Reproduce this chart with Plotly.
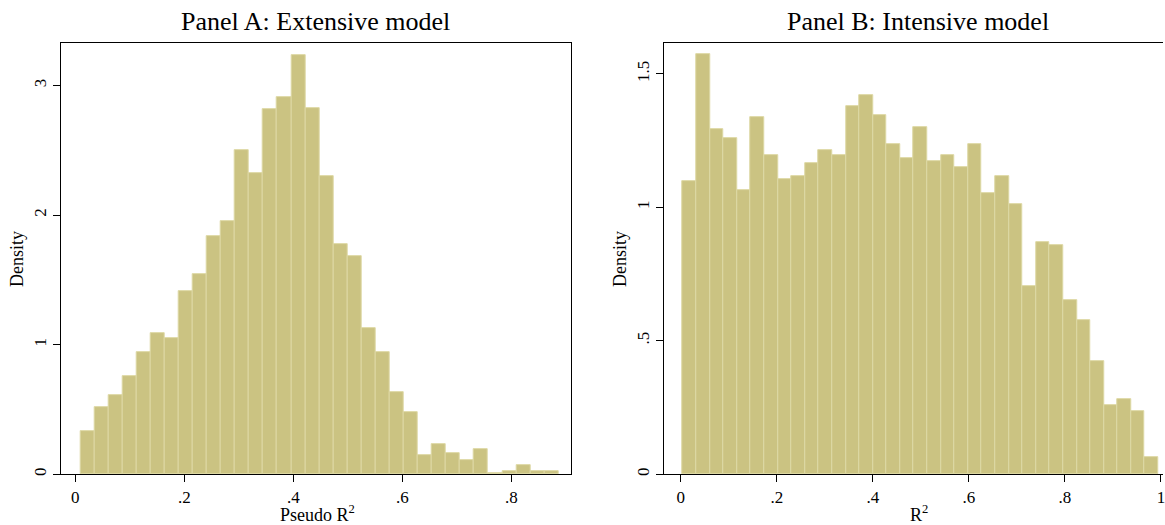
import plotly.graph_objects as go

# ---- data ----
# Panel A: Extensive model (Pseudo R^2), density per bin
a_bin_start = 0.0091
a_bin_width = 0.02581
a_density = [0.333, 0.52, 0.608, 0.756, 0.944, 1.092, 1.054, 1.415, 1.544, 1.841,
             1.956, 2.50, 2.328, 2.815, 2.913, 3.236, 2.826, 2.30, 1.777, 1.682,
             1.128, 0.944, 0.631, 0.482, 0.146, 0.233, 0.162, 0.110, 0.195, 0.010,
             0.026, 0.072, 0.026, 0.026]

# Panel B: Intensive model (R^2), density per bin
b_bin_start = 0.0039
b_bin_width = 0.0283
b_density = [1.097, 1.573, 1.291, 1.26, 1.065, 1.336, 1.194, 1.107, 1.118, 1.164,
             1.215, 1.194, 1.379, 1.42, 1.346, 1.238, 1.183, 1.302, 1.173, 1.194,
             1.152, 1.238, 1.053, 1.118, 1.01, 0.706, 0.868, 0.857, 0.651, 0.578,
             0.4225, 0.26, 0.28, 0.2375, 0.0625]

a_xticks = [0, 0.2, 0.4, 0.6, 0.8]
a_xticklabels = ["0", ".2", ".4", ".6", ".8"]
a_yticks = [0, 1, 2, 3]
a_yticklabels = ["0", "1", "2", "3"]

b_xticks = [0, 0.2, 0.4, 0.6, 0.8, 1.0]
b_xticklabels = ["0", ".2", ".4", ".6", ".8", "1"]
b_yticks = [0, 0.5, 1, 1.5]
b_yticklabels = ["0", ".5", "1", "1.5"]

titles = ["Panel A: Extensive model", "Panel B: Intensive model"]
xtitles = ["Pseudo R<sup>2</sup>", "R<sup>2</sup>"]
ytitle = "Density"

# ---- style ----
W, H = 1165, 525
FONT = "Liberation Serif, Times New Roman, serif"
FILL = "#CBC382"
EDGE = "#DDD8A4"

a_x = [a_bin_start + a_bin_width * (i + 0.5) for i in range(len(a_density))]
b_x = [b_bin_start + b_bin_width * (i + 0.5) for i in range(len(b_density))]

fig = go.Figure()
fig.add_trace(go.Bar(x=a_x, y=a_density, width=a_bin_width,
                     marker=dict(color=FILL, line=dict(color=EDGE, width=1)),
                     xaxis="x", yaxis="y", showlegend=False))
fig.add_trace(go.Bar(x=b_x, y=b_density, width=b_bin_width,
                     marker=dict(color=FILL, line=dict(color=EDGE, width=1)),
                     xaxis="x2", yaxis="y2", showlegend=False))

def px_x(p):
    return p / W

def px_y(p):
    return 1 - p / H

ydom = [px_y(476), px_y(43.3)]
axis_common = dict(showgrid=False, zeroline=False, showline=True, linecolor="black",
                   linewidth=1.3, ticks="outside", ticklen=7, tickwidth=1.2,
                   tickcolor="black", tickfont=dict(family=FONT, size=17, color="black"))

fig.update_layout(
    width=W, height=H,
    margin=dict(l=0, r=0, t=0, b=0),
    paper_bgcolor="white", plot_bgcolor="white",
    bargap=0,
    font=dict(family=FONT, color="black"),
    xaxis=dict(domain=[px_x(60.8), px_x(571.7)], range=[-0.0267, 0.909],
               tickvals=a_xticks, ticktext=a_xticklabels, anchor="y", mirror=True,
               **axis_common),
    yaxis=dict(domain=ydom, range=[0, 3.328], tickvals=a_yticks, ticktext=a_yticklabels,
               tickangle=-90, anchor="x", mirror=True, **axis_common),
    xaxis2=dict(domain=[px_x(665.4), 1.0], range=[-0.0345, 1.0042],
                tickvals=b_xticks, ticktext=b_xticklabels, anchor="y2", mirror=True,
                ticklabeloverflow="allow", **axis_common),
    yaxis2=dict(domain=ydom, range=[0, 1.615], tickvals=b_yticks, ticktext=b_yticklabels,
                tickangle=-90, anchor="x2", mirror=False, **axis_common),
)

annotations = [
    dict(text=titles[0], x=px_x(316), y=px_y(22), xref="paper", yref="paper",
         showarrow=False, font=dict(family=FONT, size=26, color="black"),
         xanchor="center", yanchor="middle"),
    dict(text=titles[1], x=px_x(920), y=px_y(22), xref="paper", yref="paper",
         showarrow=False, font=dict(family=FONT, size=26, color="black"),
         xanchor="center", yanchor="middle"),
    dict(text=xtitles[0], x=px_x(318), y=px_y(515), xref="paper", yref="paper",
         showarrow=False, font=dict(family=FONT, size=18, color="black"),
         xanchor="center", yanchor="middle"),
    dict(text=xtitles[1], x=px_x(921), y=px_y(515), xref="paper", yref="paper",
         showarrow=False, font=dict(family=FONT, size=18, color="black"),
         xanchor="center", yanchor="middle"),
    dict(text=ytitle, x=px_x(17), y=px_y(260), xref="paper", yref="paper",
         showarrow=False, textangle=-90, font=dict(family=FONT, size=18, color="black"),
         xanchor="center", yanchor="middle"),
    dict(text=ytitle, x=px_x(621), y=px_y(260), xref="paper", yref="paper",
         showarrow=False, textangle=-90, font=dict(family=FONT, size=18, color="black"),
         xanchor="center", yanchor="middle"),
]
fig.update_layout(annotations=annotations)

fig.write_html("out.html")
